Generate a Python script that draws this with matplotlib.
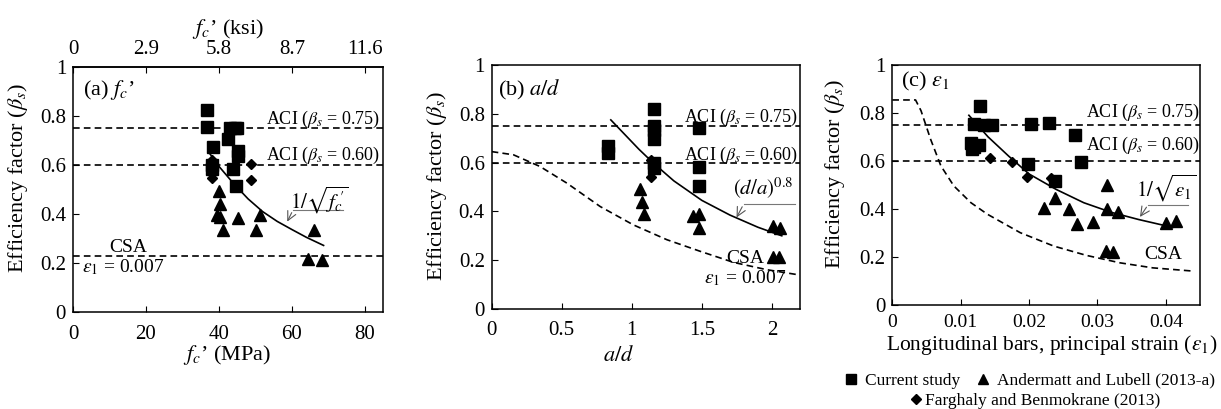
import matplotlib

matplotlib.use("Agg")

import matplotlib.pyplot as plt
from matplotlib.lines import Line2D

# ---- panel (a): concrete strength (MPa) ----
A_SQ_X = [36.6, 36.6, 43.0, 44.4, 45.0, 42.6, 38.4, 45.1, 45.1, 38.2, 38.2, 43.9, 44.6]
A_SQ_Y = [0.824, 0.757, 0.75, 0.75, 0.75, 0.705, 0.672, 0.658, 0.637, 0.60, 0.585, 0.582, 0.514]
A_DI_X = [38.2, 38.2, 48.8, 48.8]
A_DI_Y = [0.62, 0.546, 0.604, 0.539]
A_TR_X = [40.0, 40.2, 39.5, 40.4, 41.1, 45.1, 50.2, 51.3, 66.1, 64.3, 68.2]
A_TR_Y = [0.494, 0.442, 0.395, 0.39, 0.336, 0.385, 0.336, 0.395, 0.336, 0.218, 0.214]
A_FIT_X = [37.2, 40, 44, 48, 52, 56, 60, 64, 68.7]
A_FIT_Y = [0.653, 0.595, 0.525, 0.462, 0.41, 0.37, 0.337, 0.305, 0.272]
A_CSA = 0.23
KSI_TICKS = [0, 20, 40, 60, 80]
KSI_LABELS = ["0", "2.9", "5.8", "8.7", "11.6"]

# ---- panel (b): shear span ratio ----
B_SQ_X = [0.83, 0.83, 1.155, 1.155, 1.155, 1.155, 1.155, 1.155, 1.476, 1.476, 1.476]
B_SQ_Y = [0.666, 0.638, 0.82, 0.75, 0.734, 0.696, 0.598, 0.577, 0.741, 0.581, 0.506]
B_DI_X = [1.136, 1.136]
B_DI_Y = [0.611, 0.539]
B_TR_X = [1.055, 1.076, 1.09, 1.44, 1.48, 1.48, 2.01, 2.06, 2.007, 2.05]
B_TR_Y = [0.49, 0.437, 0.39, 0.383, 0.39, 0.33, 0.34, 0.33, 0.213, 0.213]
B_FIT_X = [0.85, 0.95, 1.05, 1.15, 1.3, 1.5, 1.7, 1.9, 2.07]
B_FIT_Y = [0.775, 0.715, 0.655, 0.60, 0.525, 0.445, 0.385, 0.335, 0.30]
B_CSA_X = [0.0, 0.155, 0.345, 0.536, 0.774, 1.01, 1.25, 1.49, 1.726, 1.964, 2.19]
B_CSA_Y = [0.645, 0.632, 0.584, 0.516, 0.42, 0.345, 0.284, 0.236, 0.191, 0.161, 0.14]

# ---- panel (c): principal strain ----
C_SQ_X = [0.0128, 0.0120, 0.0134, 0.0146, 0.0115, 0.0119, 0.0127, 0.0117,
          0.0203, 0.0229, 0.0267, 0.0276, 0.0198, 0.0238]
C_SQ_Y = [0.83, 0.753, 0.749, 0.749, 0.676, 0.656, 0.665, 0.649,
          0.753, 0.757, 0.709, 0.593, 0.586, 0.516]
C_DI_X = [0.0143, 0.0175, 0.0197, 0.0232]
C_DI_Y = [0.611, 0.593, 0.534, 0.53]
C_TR_X = [0.0222, 0.0238, 0.0259, 0.027, 0.0294, 0.0314, 0.0314, 0.033,
          0.0312, 0.0323, 0.0401, 0.0415]
C_TR_Y = [0.404, 0.446, 0.40, 0.337, 0.344, 0.499, 0.397, 0.386,
          0.223, 0.22, 0.342, 0.349]
C_FIT_X = [0.0112, 0.014, 0.017, 0.020, 0.024, 0.028, 0.032, 0.036, 0.041]
C_FIT_Y = [0.79, 0.70, 0.62, 0.545, 0.48, 0.425, 0.385, 0.355, 0.322]
C_CSA_X = [0.0, 0.0034, 0.0042, 0.0056, 0.0071, 0.009, 0.0115, 0.0139, 0.0187,
           0.0236, 0.0284, 0.0333, 0.0381, 0.0442]
C_CSA_Y = [0.854, 0.854, 0.809, 0.69, 0.579, 0.495, 0.425, 0.377, 0.30,
           0.244, 0.205, 0.174, 0.153, 0.139]

ACI_HIGH = 0.75
ACI_LOW = 0.60

DASH = (0, (4, 2.5))
LW = 1.2
FS = 16       # axis labels, panel tags
FS_TICK = 15
FS_NOTE = 14  # annotations inside axes

plt.rcParams.update(
    {
        "font.family": ["Liberation Serif", "DejaVu Serif"],
        "mathtext.fontset": "stix",
        "font.size": FS,
        "axes.linewidth": 1.1,
        "xtick.direction": "in",
        "ytick.direction": "in",
        "xtick.major.size": 4,
        "ytick.major.size": 4,
    }
)


def scatter_sets(ax, sq, di, tr):
    ax.plot(*sq, ls="none", marker="s", ms=8.5, color="black")
    ax.plot(*tr, ls="none", marker="^", ms=8.5, color="black")
    ax.plot(*di, ls="none", marker="D", ms=5.5, color="black")


def aci_lines(ax, xr, y_hi, y_lo):
    ax.axhline(ACI_HIGH, color="black", ls=DASH, lw=LW)
    ax.axhline(ACI_LOW, color="black", ls=DASH, lw=LW)
    ax.text(xr, y_hi, r"ACI ($\beta_s$ = 0.75)", ha="right", va="center", fontsize=13)
    ax.text(xr, y_lo, r"ACI ($\beta_s$ = 0.60)", ha="right", va="center", fontsize=13)


def leader(ax, label, text_xy, line_y, x0, x1, tip):
    ax.text(*text_xy, label, ha="center", va="center", fontsize=15)
    ax.plot([x0, x1], [line_y, line_y], color="#777777", lw=0.8)
    ax.annotate("", xy=tip, xytext=(x0, line_y),
                arrowprops=dict(arrowstyle="->", color="#555555", lw=0.8))


def style(ax):
    ax.set_ylim(0, 1)
    ax.set_yticks([0, 0.2, 0.4, 0.6, 0.8, 1])
    ax.set_yticklabels(["0", "0.2", "0.4", "0.6", "0.8", "1"])
    ax.tick_params(axis="both", labelsize=FS_TICK, pad=9)
    ax.tick_params(axis="y", pad=5)


fig = plt.figure(figsize=(12.21, 4.09), dpi=100)

# panel (a)
ax = fig.add_axes([0.0598, 0.237, 0.2539, 0.599])
style(ax)
ax.set_xlim(0, 85)
ax.set_xticks([0, 20, 40, 60, 80])
aci_lines(ax, 84.3, 0.785, 0.64)
ax.axhline(A_CSA, color="black", ls=DASH, lw=LW)
ax.plot(A_FIT_X, A_FIT_Y, color="black", lw=LW)
scatter_sets(ax, (A_SQ_X, A_SQ_Y), (A_DI_X, A_DI_Y), (A_TR_X, A_TR_Y))
ax.text(15.2, 0.264, "CSA", ha="center", va="center", fontsize=FS_NOTE)
ax.text(13.8, 0.185, r"$\varepsilon_\mathit{1}$ = 0.007", ha="center", va="center", fontsize=FS_NOTE)
ax.text(2.8, 0.906, r"(a) $f_c$’", ha="left", va="center", fontsize=FS)
leader(ax, r"$1/\sqrt{f_c\!'}$", (67.7, 0.455), 0.416, 60.3, 74, (58.4, 0.359))
ax.set_xlabel(r"$f_c$’ (MPa)", fontsize=FS)
ax.xaxis.set_label_coords(0.497, -0.125)
ax.set_ylabel(r"Efficiency factor ($\beta_s$)", fontsize=FS)
ax.yaxis.set_label_coords(-0.139, 0.547)
top = ax.secondary_xaxis("top")
top.set_xticks(KSI_TICKS)
top.set_xticklabels(KSI_LABELS)
top.tick_params(direction="in", length=4, labelsize=FS_TICK, pad=6)
top.set_xlabel(r"$f_c$’ (ksi)", fontsize=FS, labelpad=4)

# panel (b)
ax = fig.add_axes([0.4027, 0.2445, 0.2525, 0.5966])
style(ax)
ax.set_xlim(0, 2.2)
ax.set_xticks([0, 0.5, 1, 1.5, 2])
ax.set_xticklabels(["0", "0.5", "1", "1.5", "2"])
aci_lines(ax, 2.19, 0.787, 0.631)
ax.plot(B_CSA_X, B_CSA_Y, color="black", ls=DASH, lw=LW)
ax.plot(B_FIT_X, B_FIT_Y, color="black", lw=LW)
scatter_sets(ax, (B_SQ_X, B_SQ_Y), (B_DI_X, B_DI_Y), (B_TR_X, B_TR_Y))
ax.text(1.81, 0.209, "CSA", ha="center", va="center", fontsize=FS_NOTE)
ax.text(1.81, 0.127, r"$\varepsilon_\mathit{1}$ = 0.007", ha="center", va="center", fontsize=FS_NOTE)
ax.text(0.045, 0.898, r"(b) $a/d$", ha="left", va="center", fontsize=FS)
leader(ax, r"$(d/a)^{0.8}$", (1.94, 0.495), 0.429, 1.797, 2.166, (1.738, 0.365))
ax.set_xlabel(r"$a/d$", fontsize=FS)
ax.xaxis.set_label_coords(0.41, -0.15)
ax.set_ylabel(r"Efficiency factor ($\beta_s$)", fontsize=FS)
ax.yaxis.set_label_coords(-0.139, 0.504)

# panel (c)
ax = fig.add_axes([0.7308, 0.2555, 0.2520, 0.5856])
style(ax)
ax.tick_params(axis="x", labelsize=14, pad=7)
ax.set_xlim(0, 0.045)
ax.set_xticks([0, 0.01, 0.02, 0.03, 0.04])
ax.set_xticklabels(["0", "0.01", "0.02", "0.03", "0.04"])
aci_lines(ax, 0.0451, 0.80, 0.664)
ax.plot(C_CSA_X, C_CSA_Y, color="black", ls=DASH, lw=LW)
ax.plot(C_FIT_X, C_FIT_Y, color="black", lw=LW)
scatter_sets(ax, (C_SQ_X, C_SQ_Y), (C_DI_X, C_DI_Y), (C_TR_X, C_TR_Y))
ax.text(0.0396, 0.208, "CSA", ha="center", va="center", fontsize=FS_NOTE)
ax.text(0.00126, 0.933, r"(c) $\varepsilon_\mathit{1}$", ha="left", va="center", fontsize=FS)
leader(ax, r"$1/\sqrt{\varepsilon_\mathit{1}}$", (0.0401, 0.485), 0.416, 0.0374, 0.0432, (0.036, 0.356))
ax.set_xlabel(r"Longitudinal bars, principal strain ($\varepsilon_\mathit{1}$)", fontsize=15.5)
ax.xaxis.set_label_coords(0.517, -0.118)
ax.set_ylabel(r"Efficiency factor ($\beta_s$)", fontsize=FS)
ax.yaxis.set_label_coords(-0.147, 0.545)

# legend below panel (c)
h_sq = Line2D([], [], ls="none", marker="s", ms=6.5, color="black")
h_tr = Line2D([], [], ls="none", marker="^", ms=6.5, color="black")
h_di = Line2D([], [], ls="none", marker="D", ms=5, color="black")
fig.legend([h_sq, h_tr], ["Current study", "Andermatt and Lubell (2013-a)"],
           loc="center", bbox_to_anchor=(0.843, 0.069), ncol=2, frameon=False,
           fontsize=12.5, handlelength=0.8, handletextpad=0.4, columnspacing=0.9,
           borderpad=0, borderaxespad=0)
fig.legend([h_di], ["Farghaly and Benmokrane (2013)"],
           loc="center", bbox_to_anchor=(0.848, 0.02), frameon=False,
           fontsize=12.5, handlelength=0.6, handletextpad=0.2, borderpad=0, borderaxespad=0)

fig.savefig("out.png", dpi=100)
